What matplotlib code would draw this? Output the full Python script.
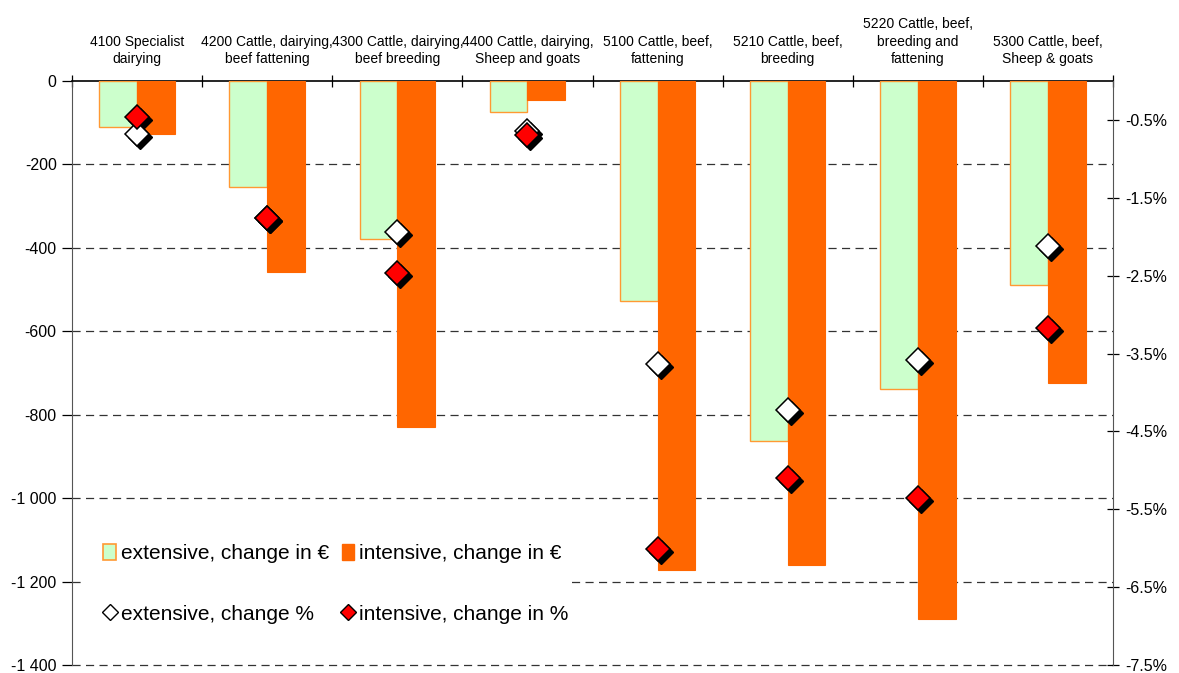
import matplotlib
matplotlib.use("Agg")
import matplotlib.pyplot as plt
import matplotlib.transforms as mtransforms
from matplotlib.patches import Patch, Rectangle
from matplotlib.lines import Line2D
from matplotlib.ticker import FuncFormatter

plt.rcParams['font.family'] = ['Liberation Sans', 'DejaVu Sans']

categories = [
    "4100 Specialist\ndairying",
    "4200 Cattle, dairying,\nbeef fattening",
    "4300 Cattle, dairying,\nbeef breeding",
    "4400 Cattle, dairying,\nSheep and goats",
    "5100 Cattle, beef,\nfattening",
    "5210 Cattle, beef,\nbreeding",
    "5220 Cattle, beef,\nbreeding and\nfattening",
    "5300 Cattle, beef,\nSheep & goats",
]
ext_eur = [-110, -254, -379, -74, -528, -863, -739, -489]
int_eur = [-127, -458, -830, -46, -1173, -1161, -1290, -724]
ext_pct = [-0.68, -1.76, -1.94, -0.64, -3.64, -4.23, -3.58, -2.12]
int_pct = [-0.46, -1.76, -2.46, -0.69, -6.01, -5.10, -5.35, -3.17]

left_ticks = [0, -200, -400, -600, -800, -1000, -1200, -1400]
right_ticks = [-0.5, -1.5, -2.5, -3.5, -4.5, -5.5, -6.5, -7.5]

EXT_FACE = "#CCFFCC"
EXT_EDGE = "#FF9933"
INT_FACE = "#FF6600"
RED = "#FF0000"

W, H = 1179, 673
fig = plt.figure(figsize=(W / 100, H / 100), dpi=100)
ax = fig.add_axes([72 / W, 1 - 665 / H, (1113 - 72) / W, (665 - 81) / H])
ax2 = ax.twinx()

x = list(range(len(categories)))
w = 0.29
ax.bar([i - w / 2 for i in x], ext_eur, width=w, color=EXT_FACE,
       edgecolor=EXT_EDGE, linewidth=1.0, zorder=3)
ax.bar([i + w / 2 for i in x], int_eur, width=w, color=INT_FACE,
       edgecolor=INT_FACE, linewidth=0.8, zorder=3)

ax.set_xlim(-0.5, len(categories) - 0.5)
ax.set_ylim(-1400, 0)
ax.set_yticks(left_ticks)
ax.yaxis.set_major_formatter(FuncFormatter(
    lambda v, p: f"{int(v):,}".replace(",", " ")))
ax.tick_params(axis='y', direction='out', length=7, width=0.9,
               labelsize=11.5, pad=4, colors='black')

# dashed gridlines behind the bars
for v in left_ticks[1:]:
    ax.axhline(v, color='#333333', lw=0.9, ls=(0, (6.5, 4.3)), zorder=1,
               clip_on=False)

# category separators on the zero line
ax.set_xticks([i - 0.5 for i in range(len(categories) + 1)])
ax.tick_params(axis='x', which='both', bottom=False, top=True,
               labelbottom=False, labeltop=False, direction='inout',
               length=8, width=0.9)
ax.spines['top'].set_color('black')
ax.spines['top'].set_linewidth(1.2)
ax.spines['bottom'].set_visible(False)
ax.spines['left'].set_color('#555555')
ax.spines['right'].set_visible(False)

for i, lab in enumerate(categories):
    ax.annotate(lab, xy=(i, 0), xytext=(0, 10.5), textcoords='offset points',
                ha='center', va='bottom', fontsize=10, linespacing=1.35,
                annotation_clip=False)

ax2.set_ylim(-7.5, 0)
ax2.set_yticks(right_ticks)
ax2.yaxis.set_major_formatter(FuncFormatter(lambda v, p: f"{v:.1f}%"))
ax2.tick_params(axis='y', direction='inout', length=9, width=0.9,
                labelsize=11.5, pad=4)
for s in ['top', 'bottom', 'left']:
    ax2.spines[s].set_visible(False)
ax2.spines['right'].set_color('#555555')

shadow = mtransforms.offset_copy(ax2.transData, fig=fig, x=3, y=-3, units='dots')
ms = 12
for vals, face in [(ext_pct, 'white'), (int_pct, RED)]:
    ax2.plot(x, vals, ls='none', marker='D', ms=ms, mfc='black', mec='black',
             transform=shadow, zorder=4, clip_on=False)
    ax2.plot(x, vals, ls='none', marker='D', ms=ms, mfc=face, mec='black',
             mew=1.1, zorder=5, clip_on=False)

# white backing for the legend block
fig.patches.append(Rectangle((82 / W, 1 - 642 / H), (570 - 82) / W, 120 / H,
                             transform=fig.transFigure, facecolor='white',
                             edgecolor='none', zorder=2))

handles = [
    Patch(facecolor=EXT_FACE, edgecolor=EXT_EDGE, linewidth=1.2),
    Line2D([], [], ls='none', marker='D', ms=8, mfc='white', mec='black', mew=1),
    Patch(facecolor=INT_FACE, edgecolor=INT_FACE),
    Line2D([], [], ls='none', marker='D', ms=8, mfc=RED, mec='black', mew=1),
]
labels = ["extensive, change in €", "extensive, change %",
          "intensive, change in €", "intensive, change in %"]
leg = fig.legend(handles, labels, ncol=2, loc='center',
                 bbox_to_anchor=(336 / W, 1 - 584 / H),
                 bbox_transform=fig.transFigure, fontsize=15,
                 frameon=False, labelspacing=2.0,
                 columnspacing=0.6, handlelength=0.6, handleheight=0.8,
                 handletextpad=0.25, borderpad=0.6, borderaxespad=0)
leg.set_zorder(10)

fig.savefig("out.png", dpi=100)
